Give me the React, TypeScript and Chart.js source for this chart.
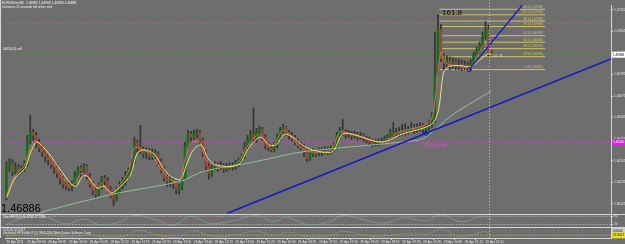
import React, { useEffect, useRef } from 'react';
import { Chart, registerables } from 'chart.js';

Chart.register(...registerables);

// ---------- DATA ----------
const HEADER_1 = 'EURUSDm,M5  1.46892 1.46908 1.46886 1.46886';
const HEADER_2 = '0 minutes 21 seconds left to bar end';
const SELL_TEXT = '4405(0.4) sell';
const BIG_PRICE_TEXT = '1.46886';
const STOCH_TEXT = 'StochRSI(3,3) 40.4294 47.2286';
const CCI_TEXT = 'CCI(14) 37.0017';
const COPY_TEXT = 'Zerolevel: FX Trader 4, (c) 2001-2010 MetaQuotes Software Corp.';

const OPEN0 = 1.46155;
const CLOSE = [
  1.46315, 1.4633, 1.4629, 1.4631, 1.4629, 1.463, 1.46325, 1.4644, 1.4649, 1.46475,
  1.4644, 1.4641, 1.4639, 1.46365, 1.4635, 1.46325, 1.4631, 1.4628, 1.4625, 1.46225,
  1.46215, 1.46205, 1.4623, 1.46265, 1.4631, 1.4629, 1.46315, 1.46265, 1.46225, 1.4619,
  1.46175, 1.46215, 1.46255, 1.4624, 1.462, 1.46175, 1.4615, 1.4619, 1.46215, 1.4624,
  1.46265, 1.4629, 1.4634, 1.4644, 1.46415, 1.464, 1.4638, 1.4639, 1.46365, 1.46385,
  1.46375, 1.4634, 1.463, 1.46255, 1.4624, 1.4625, 1.4623, 1.462, 1.4621, 1.4626,
  1.46415, 1.4648, 1.46465, 1.4648, 1.4649, 1.4645, 1.4639, 1.46315, 1.4628, 1.46315,
  1.46325, 1.4631, 1.4632, 1.463, 1.46315, 1.4632, 1.4631, 1.46325, 1.4634, 1.46365,
  1.46415, 1.4645, 1.4648, 1.46455, 1.4649, 1.46505, 1.46465, 1.46425, 1.4641, 1.464,
  1.46425, 1.46465, 1.465, 1.46515, 1.4649, 1.46475, 1.46465, 1.4644, 1.46425, 1.46415,
  1.4639, 1.46355, 1.4638, 1.4639, 1.4638, 1.46395, 1.4639, 1.464, 1.4639, 1.46405,
  1.46415, 1.46475, 1.465, 1.4649, 1.46475, 1.46485, 1.4647, 1.4648, 1.46465, 1.46475,
  1.4646, 1.4645, 1.4644, 1.4643, 1.4644, 1.46435, 1.46445, 1.46455, 1.46465, 1.4649,
  1.4648, 1.46495, 1.46485, 1.465, 1.4649, 1.46505, 1.46515, 1.465, 1.4651, 1.4652,
  1.46505, 1.46515, 1.4653, 1.46565, 1.4679, 1.47015, 1.46865, 1.4684, 1.46855, 1.4683,
  1.4685, 1.46825, 1.4684, 1.4682, 1.46835, 1.46815, 1.4684, 1.4688, 1.46905, 1.4693,
  1.46975, 1.47015, 1.46892, 1.46886,
];
const HIGH = [
  1.4634, 1.46355, 1.4635, 1.46335, 1.46325, 1.4632, 1.46345, 1.46475, 1.46575, 1.46505,
  1.4649, 1.46455, 1.46425, 1.46405, 1.4639, 1.46365, 1.4634, 1.4633, 1.4629, 1.46265,
  1.4624, 1.4623, 1.4624, 1.4629, 1.46315, 1.4632, 1.4633, 1.46325, 1.4628, 1.4624,
  1.46215, 1.4623, 1.46265, 1.4627, 1.4626, 1.46215, 1.4619, 1.4621, 1.4624, 1.4626,
  1.4629, 1.4631, 1.46355, 1.46465, 1.4645, 1.46525, 1.46415, 1.4641, 1.46405, 1.46405,
  1.464, 1.4639, 1.46355, 1.46315, 1.4627, 1.46265, 1.4626, 1.4624, 1.46225, 1.46275,
  1.4644, 1.465, 1.46495, 1.465, 1.46505, 1.465, 1.4646, 1.464, 1.4634, 1.4633,
  1.4634, 1.46335, 1.4634, 1.4633, 1.4633, 1.46335, 1.46335, 1.46345, 1.4636, 1.4638,
  1.4644, 1.46475, 1.465, 1.46615, 1.4651, 1.4652, 1.46515, 1.4648, 1.4644, 1.4643,
  1.4644, 1.4648, 1.46515, 1.4653, 1.4652, 1.465, 1.4649, 1.46475, 1.46455, 1.4644,
  1.4643, 1.464, 1.464, 1.46405, 1.464, 1.4641, 1.4641, 1.46415, 1.46415, 1.4642,
  1.4644, 1.4649, 1.46515, 1.46555, 1.46505, 1.465, 1.46495, 1.46495, 1.4649, 1.4649,
  1.46485, 1.4647, 1.46465, 1.46455, 1.46455, 1.46455, 1.4646, 1.4647, 1.4648, 1.46505,
  1.4654, 1.4651, 1.46515, 1.4653, 1.46535, 1.4652, 1.4654, 1.4653, 1.46535, 1.4654,
  1.46535, 1.4653, 1.4655, 1.4659, 1.47, 1.4709, 1.4704, 1.4689, 1.4688, 1.46875,
  1.4687, 1.46865, 1.46865, 1.4686, 1.46855, 1.4685, 1.4686, 1.469, 1.46925, 1.4695,
  1.47, 1.47055, 1.4704, 1.46908,
];
const LOW = [
  1.46145, 1.4629, 1.4627, 1.46275, 1.4627, 1.4628, 1.4629, 1.46315, 1.4643, 1.4645,
  1.4641, 1.4639, 1.46365, 1.4634, 1.46325, 1.46305, 1.4628, 1.4626, 1.46225, 1.46205,
  1.46195, 1.4619, 1.4619, 1.46215, 1.4625, 1.46265, 1.46275, 1.4625, 1.4621, 1.4617,
  1.46155, 1.46165, 1.462, 1.4622, 1.4618, 1.46155, 1.46115, 1.4614, 1.46175, 1.462,
  1.4622, 1.4625, 1.4628, 1.4633, 1.4639, 1.4638, 1.4636, 1.46355, 1.4635, 1.4635,
  1.46355, 1.4632, 1.4628, 1.4624, 1.46215, 1.46215, 1.46205, 1.46175, 1.46175, 1.46195,
  1.4625, 1.46405, 1.4644, 1.4645, 1.4646, 1.4643, 1.46365, 1.4629, 1.4625, 1.46265,
  1.463, 1.4629, 1.463, 1.46285, 1.4629, 1.463, 1.46295, 1.463, 1.46315, 1.4633,
  1.46355, 1.464, 1.46435, 1.4644, 1.4644, 1.4647, 1.4645, 1.46405, 1.46395, 1.4639,
  1.4639, 1.4641, 1.4645, 1.46485, 1.46475, 1.46455, 1.46445, 1.46425, 1.4641, 1.464,
  1.46365, 1.4634, 1.46345, 1.46365, 1.46365, 1.4637, 1.4637, 1.4638, 1.46375, 1.4638,
  1.4639, 1.46405, 1.4646, 1.46475, 1.4646, 1.46465, 1.46455, 1.4646, 1.4645, 1.46455,
  1.46445, 1.46435, 1.46425, 1.46415, 1.4642, 1.4642, 1.46425, 1.46435, 1.46445, 1.4645,
  1.46465, 1.4647, 1.4647, 1.46475, 1.46475, 1.4648, 1.4649, 1.46485, 1.4649, 1.46495,
  1.4648, 1.46485, 1.465, 1.46515, 1.4654, 1.4678, 1.4685, 1.4681, 1.4682, 1.4681,
  1.46815, 1.4681, 1.4681, 1.46805, 1.4681, 1.4681, 1.46805, 1.4683, 1.4687, 1.4689,
  1.46915, 1.46965, 1.4688, 1.46886,
];

// moving averages: [bar, price]
const MA_FAST = [
  [0, 1.46155], [2.8, 1.46255], [6.2, 1.46305], [7.8, 1.46375], [9.5, 1.4643], [10.5, 1.4644],
  [13.8, 1.4639], [18.5, 1.4629], [21.8, 1.46225], [23.5, 1.46215], [25.5, 1.46265], [27.2, 1.46265],
  [30.5, 1.46205], [32.8, 1.46215], [35.2, 1.4618], [38.5, 1.46215], [41.8, 1.46275], [43.8, 1.4638],
  [46.2, 1.464], [49.5, 1.4638], [52.8, 1.46305], [55.2, 1.46265], [58.5, 1.4625], [60.5, 1.46325],
  [62.8, 1.464], [65.5, 1.46425], [67.8, 1.46355], [70.2, 1.46325], [75.2, 1.46315], [78.5, 1.4633],
  [81.2, 1.46405], [85.2, 1.46465], [88.5, 1.46425], [90.5, 1.46425], [93.5, 1.4648], [96.2, 1.46465],
  [99.5, 1.46425], [102.8, 1.464], [109.5, 1.4639], [112.8, 1.4648], [116.2, 1.4648], [126.2, 1.4644],
  [132.8, 1.4648], [142.8, 1.4653], [145.2, 1.46605], [146.8, 1.4679], [148.5, 1.46825], [152.8, 1.4683],
  [156.2, 1.46825], [159.5, 1.46865], [161.8, 1.4689], [163, 1.4689],
];
const MA_MID = [
  [0, 1.4617], [3, 1.4627], [6, 1.4632], [8, 1.4641], [10, 1.46445], [13, 1.464], [18, 1.4628],
  [21, 1.4622], [23, 1.4623], [25, 1.4628], [27, 1.4627], [30, 1.462], [32, 1.4623], [35, 1.4617],
  [38, 1.4622], [41, 1.4629], [43, 1.4641], [46, 1.464], [49, 1.4637], [52, 1.463], [55, 1.4625],
  [58, 1.4624], [60, 1.4635], [62, 1.4644], [65, 1.4644], [67, 1.4635], [70, 1.4632], [75, 1.4631],
  [78, 1.4634], [81, 1.4642], [85, 1.4648], [88, 1.4642], [90, 1.4643], [93, 1.465], [96, 1.4646],
  [99, 1.4641], [102, 1.4639], [109, 1.464], [112, 1.4649], [116, 1.4648], [126, 1.4644], [132, 1.4649],
  [142, 1.4654], [144, 1.4665], [146, 1.469], [148, 1.4684], [152, 1.4683], [156, 1.4682],
  [159, 1.469], [161, 1.4694], [163, 1.469],
];
const MA_SLOW = [
  [9.5, 1.46065], [13.8, 1.4609], [36.2, 1.46175], [58.5, 1.4624], [66.2, 1.4629], [83.8, 1.4634],
  [99.5, 1.4639], [138.5, 1.4645], [141.8, 1.46475], [149.5, 1.46575], [161.8, 1.4669], [163, 1.467],
];

const TREND_MAIN = [[74, 1.46075], [141, 1.46485], [204, 1.4687]];
const TREND_SHORT = [[155.5, 1.4681], [174.5, 1.4716]];

const CURRENT_PRICE = 1.46886;
const PIVOT_PRICE = 1.4644;
const RESIST_PRICE = 1.47045;

const FIB_LEVELS = [0, 23.6, 38.2, 50, 61.8, 78.6, 88.6, 100, 110];
const FIB_PRICES = [1.4681, 1.46876, 1.46917, 1.4695, 1.46983, 1.4703, 1.47058, 1.4709, 1.47118];
const FIB_START = 145.5;
const FIB_END = 181;

const PRICE_TICKS = [
  1.47115, 1.4706, 1.47005, 1.4695, 1.46895, 1.4684, 1.46785, 1.4673, 1.46675, 1.4662,
  1.46565, 1.4651, 1.46455, 1.464, 1.46345, 1.4629, 1.46235, 1.4618, 1.46125,
];

const TIME_TICK_BARS = [0, 7, 14, 21, 28, 35, 42, 49, 56, 63, 70, 77, 84, 91, 98, 105, 112, 119, 126, 133, 140, 147, 154, 161];
const TIME_LABELS = [
  '26 Apr 2011', '26 Apr 09:00', '26 Apr 09:35', '26 Apr 10:10', '26 Apr 10:45', '26 Apr 11:20',
  '26 Apr 11:55', '26 Apr 12:30', '26 Apr 13:05', '26 Apr 13:40', '26 Apr 14:15', '26 Apr 14:50',
  '26 Apr 15:25', '26 Apr 16:00', '26 Apr 16:35', '26 Apr 17:10', '26 Apr 17:45', '26 Apr 18:20',
  '26 Apr 18:55', '26 Apr 19:30', '26 Apr 20:05', '26 Apr 20:40', '26 Apr 21:15', '26 Apr 21:50',
];

const STOCH_MAIN = [
  [0, 20], [8, 85], [14, 70], [20, 25], [26, 60], [31, 20], [37, 30], [43, 85], [50, 55], [56, 15],
  [62, 80], [68, 30], [76, 45], [84, 85], [90, 40], [94, 75], [101, 20], [108, 35], [113, 85], [120, 55],
  [127, 30], [134, 70], [141, 45], [146, 90], [153, 40], [160, 80], [163, 60],
];
const STOCH_SIGNAL = [
  [0, 30], [10, 75], [17, 55], [24, 40], [30, 35], [36, 30], [45, 70], [53, 40], [59, 30], [65, 65],
  [72, 40], [80, 55], [87, 70], [93, 55], [98, 50], [104, 30], [111, 60], [118, 65], [125, 40], [131, 55],
  [138, 55], [144, 70], [150, 60], [157, 60], [163, 70],
];
const STOCH_LEVELS = [80, 20];
const CCI_VALUES = [
  [0, -60], [8, 150], [15, 40], [22, -80], [28, 20], [33, -60], [40, -20], [44, 180], [52, -20], [58, -90],
  [62, 170], [70, -40], [78, 40], [84, 160], [90, -10], [95, 120], [102, -60], [110, 20], [113, 150],
  [122, -20], [128, -10], [135, 80], [142, 60], [146, 260], [152, -40], [158, 60], [161, 140], [163, 37],
];
const CCI_LAST_TEXT = '37.0017';
const CROSSHAIR_BAR = 162;

// ---------- STYLE ----------
const BG = '#6e6e6e';
const AXIS_LINE = '#d6d6d6';
const AXIS_TEXT = '#e6e6e6';
const BULL = '#16701b';
const BEAR = '#8e4a3a';
const WICK = '#333333';
const YELLOW = '#efe07a';
const ORANGE = '#d8704e';
const SLOW_GREEN = '#8fc09a';
const BLUE = '#1c1cc0';
const FIB_COLOR = '#cfc466';
const FONT = 'Liberation Sans';

const pts = (a: number[][]) => a.map(([x, y]) => ({ x, y }));
const hline = (v: number) => [{ x: -2, y: v }, { x: 210, y: v }];

function text(ctx: CanvasRenderingContext2D, s: string, x: number, y: number, size: number, color: string,
  align: CanvasTextAlign = 'left', baseline: CanvasTextBaseline = 'middle') {
  ctx.font = `${size}px "${FONT}"`;
  ctx.fillStyle = color;
  ctx.textAlign = align;
  ctx.textBaseline = baseline;
  ctx.fillText(s, x, y);
}

const bgPlugin = {
  id: 'bg',
  beforeDraw(chart: any) {
    const { ctx, width, height } = chart;
    ctx.save();
    ctx.fillStyle = BG;
    ctx.fillRect(0, 0, width, height);
    ctx.restore();
  },
};

const overlayPlugin = {
  id: 'overlay',
  afterDraw(chart: any) {
    const ctx: CanvasRenderingContext2D = chart.ctx;
    const { x, y, y1, y2 } = chart.scales;
    ctx.save();
    ctx.strokeStyle = AXIS_LINE;
    ctx.lineWidth = 1;
    ctx.beginPath();
    ctx.moveTo(0, Math.round(y.bottom) + 0.5); ctx.lineTo(625, Math.round(y.bottom) + 0.5);
    ctx.moveTo(0, Math.round(y1.bottom) + 0.5); ctx.lineTo(625, Math.round(y1.bottom) + 0.5);
    ctx.moveTo(0.5, 0); ctx.lineTo(0.5, y2.bottom);
    ctx.stroke();

    const cx = Math.round(x.getPixelForValue(CROSSHAIR_BAR)) + 0.5;
    ctx.strokeStyle = '#c4c4c4';
    ctx.setLineDash([1, 2]);
    ctx.beginPath();
    ctx.moveTo(cx, 0); ctx.lineTo(cx, y2.bottom);
    ctx.stroke();
    ctx.setLineDash([]);

    text(ctx, HEADER_1, 2, 3.5, 3.3, '#f2f2f2');
    text(ctx, HEADER_2, 2, 7.2, 3.1, '#f2f2f2');
    text(ctx, SELL_TEXT, 3, 49.5, 3.1, '#f2f2f2');
    text(ctx, BIG_PRICE_TEXT, 1, 212, 11, '#000000', 'left', 'alphabetic');
    text(ctx, '161.8', 442, 14.5, 8, '#111111', 'left', 'alphabetic');
    text(ctx, 'Daily Pivot', 425, y.getPixelForValue(PIVOT_PRICE) + 4, 4.6, '#e048e0');
    text(ctx, '1.0  :11', 493, y.getPixelForValue(CURRENT_PRICE) + 1.5, 3, '#e0e0e0');

    const fx = x.getPixelForValue(FIB_END) - 2;
    FIB_LEVELS.forEach((lv, i) => {
      const py = y.getPixelForValue(FIB_PRICES[i]);
      text(ctx, `${lv.toFixed(1)} (${FIB_PRICES[i].toFixed(5)})`, fx, py - 0.8, 3, FIB_COLOR, 'right', 'bottom');
    });

    text(ctx, STOCH_TEXT, 3, y1.top + 3.5, 3, '#efefef');
    text(ctx, CCI_TEXT, 3, y2.top + 2.5, 3, '#efefef');
    text(ctx, COPY_TEXT, 3, y2.top + 6, 3, '#efefef');

    const box = (py: number, fill: string, s: string, color: string) => {
      ctx.fillStyle = fill;
      ctx.fillRect(612, py - 3, 13, 6);
      text(ctx, s, 613, py + 0.2, 3.1, color);
    };
    box(y.getPixelForValue(CURRENT_PRICE), '#ffffff', CURRENT_PRICE.toFixed(5), '#000000');
    box(y.getPixelForValue(PIVOT_PRICE), '#e020e0', PIVOT_PRICE.toFixed(5), '#ffffff');
    box(y2.top + 3.5, '#cfcfcf', '0.0000', '#000000');
    box(y2.getPixelForValue(0), '#e6e020', CCI_LAST_TEXT, '#000000');
    ctx.restore();
  },
};

const zeroPad = (s: any) => {
  s.paddingTop = 0; s.paddingBottom = 0; s.paddingLeft = 0; s.paddingRight = 0;
};

export default function App() {
  const ref = useRef<HTMLCanvasElement>(null);
  useEffect(() => {
    document.body.style.margin = '0';
    document.body.style.background = BG;
    const opens = CLOSE.map((_, i) => (i === 0 ? OPEN0 : CLOSE[i - 1]));
    const wickData = HIGH.map((h, i) => ({ x: i, y: [LOW[i], h] }));
    const bodyData = CLOSE.map((c, i) => ({ x: i, y: [opens[i], c] }));

    const lineBase = { type: 'line', pointRadius: 0, borderWidth: 1, clip: 0, fill: false };
    const datasets: any[] = [
      { ...lineBase, data: pts(TREND_MAIN), borderColor: BLUE, borderWidth: 1.7, yAxisID: 'y', order: 0,
        pointRadius: (c: any) => (c.dataIndex === 1 ? 2 : 0), pointBorderColor: BLUE, pointBackgroundColor: 'rgba(0,0,0,0)', pointBorderWidth: 1 },
      { ...lineBase, data: pts(TREND_SHORT), borderColor: BLUE, borderWidth: 1.4, yAxisID: 'y', order: 0,
        pointRadius: (c: any) => (c.dataIndex === 0 ? 2 : 0), pointBorderColor: BLUE, pointBackgroundColor: 'rgba(0,0,0,0)', pointBorderWidth: 1 },
      { ...lineBase, data: pts(MA_FAST), borderColor: YELLOW, yAxisID: 'y', order: 1, tension: 0.3 },
      { ...lineBase, data: pts(MA_MID), borderColor: ORANGE, yAxisID: 'y', order: 2, tension: 0.3 },
      { ...lineBase, data: pts(MA_SLOW), borderColor: SLOW_GREEN, yAxisID: 'y', order: 2, tension: 0.3 },
      { type: 'bar', data: bodyData, yAxisID: 'y', order: 3, grouped: false, barThickness: 2, minBarLength: 1,
        backgroundColor: (c: any) => (CLOSE[c.dataIndex] >= opens[c.dataIndex] ? BULL : BEAR), borderWidth: 0 },
      { type: 'bar', data: wickData, yAxisID: 'y', order: 4, grouped: false, barThickness: 1,
        backgroundColor: WICK, borderWidth: 0 },
      ...FIB_PRICES.map((p) => ({ ...lineBase, data: [{ x: FIB_START, y: p }, { x: FIB_END, y: p }],
        borderColor: FIB_COLOR, yAxisID: 'y', order: 5 })),
      { ...lineBase, data: hline(RESIST_PRICE), borderColor: '#c0623c', borderDash: [4, 2], yAxisID: 'y', order: 6 },
      { ...lineBase, data: hline(CURRENT_PRICE), borderColor: '#4f8c44', borderDash: [4, 2], yAxisID: 'y', order: 6 },
      { ...lineBase, data: hline(PIVOT_PRICE), borderColor: '#cf40cf', borderDash: [4, 2], yAxisID: 'y', order: 6 },
      ...STOCH_LEVELS.map((v) => ({ ...lineBase, data: hline(v), borderColor: '#cfcfcf', borderDash: [1, 2], yAxisID: 'y1', order: 7 })),
      { ...lineBase, data: pts(STOCH_MAIN), borderColor: 'rgba(134,184,164,0.55)', yAxisID: 'y1', order: 6, tension: 0.4 },
      { ...lineBase, data: pts(STOCH_SIGNAL), borderColor: 'rgba(178,90,90,0.7)', borderDash: [1, 1], yAxisID: 'y1', order: 6, tension: 0.4 },
      { ...lineBase, data: hline(0), borderColor: '#d8d050', borderDash: [1, 2], yAxisID: 'y2', order: 7 },
      { ...lineBase, data: pts(CCI_VALUES), borderColor: 'rgba(156,156,104,0.6)', yAxisID: 'y2', order: 6, tension: 0.4 },
    ];

    const smallFont = { size: 3.2, family: FONT };
    const yCommon = {
      type: 'linear', position: 'right', stack: 'panes', bounds: 'data', offset: false,
      grid: { display: true, drawOnChartArea: false, drawTicks: true, tickLength: 2, color: AXIS_LINE },
      border: { display: true, color: AXIS_LINE },
      afterFit: (s: any) => { s.width = 14; zeroPad(s); },
    };

    const chart = new Chart(ref.current as HTMLCanvasElement, {
      type: 'bar',
      data: { datasets },
      options: {
        animation: false,
        responsive: false,
        devicePixelRatio: 1,
        events: [],
        layout: { padding: 0 },
        plugins: { legend: { display: false }, tooltip: { enabled: false }, title: { display: false } },
        scales: {
          x: {
            type: 'linear', min: -0.5, max: 203.17, offset: false, bounds: 'data',
            afterBuildTicks: (s: any) => { s.ticks = TIME_TICK_BARS.map((v) => ({ value: v })); },
            afterFit: (s: any) => { s.height = 6; zeroPad(s); },
            ticks: { autoSkip: false, maxRotation: 0, minRotation: 0, align: 'start', padding: 0,
              color: AXIS_TEXT, font: smallFont, callback: (_v: any, i: number) => TIME_LABELS[i] },
            grid: { display: true, drawOnChartArea: false, drawTicks: true, tickLength: 2, color: AXIS_LINE },
            border: { display: true, color: AXIS_LINE },
          },
          y: {
            ...yCommon, stackWeight: 213, min: 1.46075, max: 1.4714,
            afterBuildTicks: (s: any) => { s.ticks = PRICE_TICKS.map((v) => ({ value: v })); },
            ticks: { padding: 1, color: AXIS_TEXT, font: smallFont, callback: (v: any) => Number(v).toFixed(5) },
          },
          y1: {
            ...yCommon, stackWeight: 14, min: 0, max: 100,
            afterBuildTicks: (s: any) => { s.ticks = STOCH_LEVELS.map((v) => ({ value: v })); },
            ticks: { padding: 1, color: AXIS_TEXT, font: smallFont, callback: (v: any) => String(v) },
          },
          y2: {
            ...yCommon, stackWeight: 11, min: -100, max: 300,
            ticks: { display: false },
            grid: { display: false },
          },
        },
      } as any,
      plugins: [bgPlugin, overlayPlugin],
    } as any);
    return () => chart.destroy();
  }, []);

  return (
    <div style={{ width: 625, height: 244, background: BG }}>
      <canvas ref={ref} width={625} height={244} style={{ display: 'block' }} />
    </div>
  );
}
